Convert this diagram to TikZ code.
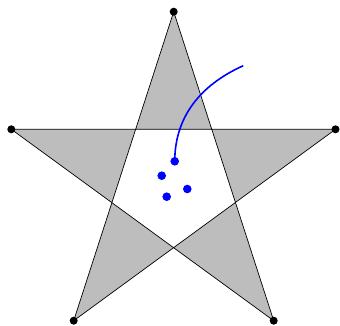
\documentclass[tikz,border=0pt]{standalone}
\begin{document}
\begin{tikzpicture}[x=1pt,y=-1pt,
  vertex/.style={circle,fill=black,inner sep=0pt,minimum size=8pt},
  bdot/.style={circle,fill=blue,inner sep=0pt,minimum size=8.6pt},
  starline/.style={draw=black,line width=0.7pt,line join=miter}]
\useasboundingbox (0,0) rectangle (340,326);
\coordinate (T) at (173.7,11.7);
\coordinate (L) at (11.3,129.3);
\coordinate (R) at (335.5,129.3);
\coordinate (BL) at (73.7,320.7);
\coordinate (BR) at (273.7,320.7);
\fill[even odd rule,fill=black!26] (T) -- (BL) -- (R) -- (L) -- (BR) -- cycle;
\draw[starline] (T) -- (BL) -- (R) -- (L) -- (BR) -- cycle;
\foreach \p in {T,L,R,BL,BR} \node[vertex] (v\p) at (\p) {};
\coordinate (E) at (243.3,65.7);
\node[bdot] (d1) at (174.7,161.3) {};
\node[bdot] (d2) at (161.7,175.7) {};
\node[bdot] (d3) at (187.3,189) {};
\node[bdot] (d4) at (166.7,196.7) {};
\draw[blue,line width=1.6pt] (d1.center) .. controls (175,111) and (207,82) .. (E);
\end{tikzpicture}
\end{document}
